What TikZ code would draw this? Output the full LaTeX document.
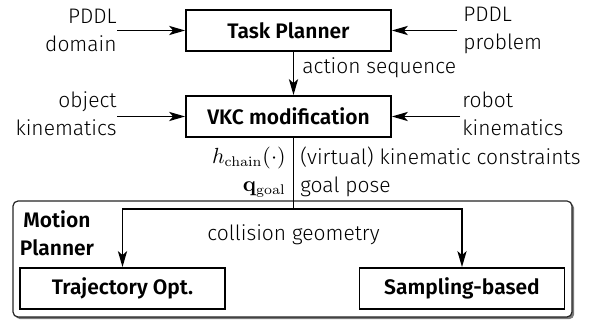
\documentclass[tikz,border=0pt]{standalone}
\usepackage[no-math]{fontspec}
\setmainfont{Fira Sans}[UprightFont=* Light, BoldFont=* SemiBold]
\usetikzlibrary{arrows.meta,shadows}

\newcommand{\lblfont}{\fontsize{10.5}{14}\selectfont}

\tikzset{
    block/.style={draw, line width=0.9pt, minimum width=102.5pt, minimum height=20.5pt, inner sep=0pt, font=\lblfont\bfseries},
    lbl/.style={inner sep=0pt, font=\lblfont},
    flow/.style={line width=0.75pt, -{Stealth[length=8pt, width=4.6pt, inset=2pt]}},
    wire/.style={line width=0.75pt},
    planner/.style={draw=black!85, line width=0.6pt, fill=white, rounded corners=2.5pt, minimum width=279.5pt, minimum height=58pt, inner sep=0pt,
        drop shadow={shadow xshift=1.1pt, shadow yshift=-1.1pt, fill=black!65, opacity=0.8}}
}

\begin{document}
\begin{tikzpicture}[x=0.5pt, y=-0.5pt]
    % Fix the page size
    \useasboundingbox (0,0) rectangle (590,320);

    % Draw the motion planner frame
    \node[planner] (mp) at (292.5,259) {};
    \node[lbl, font=\lblfont\bfseries, align=center] (mptitle) at (57,233) {Motion\\Planner};

    % Draw the boxes
    \node[block] (task) at (288.5,30.5) {Task Planner};
    \node[block] (vkc) at (288.5,116.5) {VKC modification};
    \node[block] (traj) at (122.5,288.5) {Trajectory Opt.};
    \node[block] (samp) at (462,288.5) {Sampling-based};

    % Add the inputs on both sides
    \node[lbl, anchor=east, align=right] (domain) at (117,30) {PDDL\\domain};
    \node[lbl, anchor=west, align=left] (problem) at (463,30) {PDDL\\problem};
    \node[lbl, anchor=east, align=right] (objkin) at (117,114) {object\\kinematics};
    \node[lbl, anchor=west, align=left] (robkin) at (462,114) {robot\\kinematics};

    \draw[flow] (domain.east |- task.west) -- (task.west);
    \draw[flow] ([xshift=-3pt]problem.west |- task.east) -- (task.east);
    \draw[flow] (objkin.east |- vkc.west) -- (vkc.west);
    \draw[flow] ([xshift=-1pt]robkin.west |- vkc.east) -- (vkc.east);

    % Connect the planners
    \coordinate (split) at (293.5,209);
    \draw[flow] (task.south -| split) -- (vkc.north -| split);
    \node[lbl, anchor=west] (actseq) at (302,68) {action sequence};

    \draw[wire] (vkc.south -| split) -- (split);
    \draw[flow] (split) -| (traj.north);
    \draw[flow] (split) -| (samp.north);

    % Add the labels of the split
    \node[lbl, anchor=east, align=right] (maths) at (286,172) {$h_{\mathrm{chain}}(\cdot)$\\$\mathbf{q}_{\mathrm{goal}}$};
    \node[lbl, anchor=west, align=left] (cons) at (300,172) {(virtual) kinematic constraints\\goal pose};
    \node[lbl] (coll) at (293.5,235) {collision geometry};
\end{tikzpicture}
\end{document}
